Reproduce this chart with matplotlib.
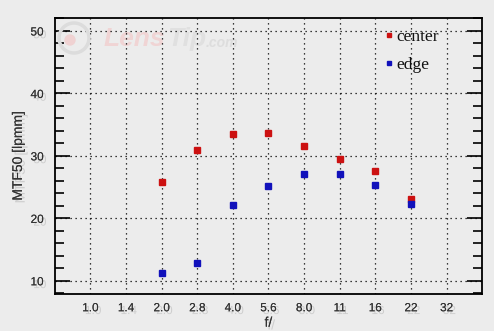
import numpy as np
import matplotlib.pyplot as plt
import matplotlib.patheffects as pe
from matplotlib.patches import Circle
from matplotlib.transforms import IdentityTransform
from matplotlib.ticker import MultipleLocator

# Data
fnum_labels = ["1.0", "1.4", "2.0", "2.8", "4.0", "5.6", "8.0", "11", "16", "22", "32"]
meas_labels = ["2.0", "2.8", "4.0", "5.6", "8.0", "11", "16", "22"]
center = [25.8, 31.0, 33.5, 33.6, 31.6, 29.5, 27.6, 23.1]
edge = [11.2, 12.8, 22.1, 25.2, 27.1, 27.1, 25.3, 22.3]

bg = "#ececec"
txt = "#333333"
shadow = [pe.withSimplePatchShadow(offset=(2, -2), shadow_rgbFace="#888888", alpha=0.3), pe.Normal()]

fig = plt.figure(figsize=(4.94, 3.31), dpi=100, facecolor=bg)
ax = fig.add_axes([0.111, 0.112, 0.865, 0.834], facecolor=bg)

xpos = [fnum_labels.index(l) for l in meas_labels]
ax.plot(xpos, center, "s", color="#cc1111", markersize=4.3, label="center", zorder=3)
ax.plot(xpos, edge, "s", color="#1111bb", markersize=4.3, label="edge", zorder=3)

ax.set_xlim(-1, 11)
ax.set_ylim(7.9, 52.1)
ax.set_xticks(range(len(fnum_labels)))
ax.set_xticklabels(fnum_labels)
ax.yaxis.set_major_locator(MultipleLocator(10))
ax.yaxis.set_minor_locator(MultipleLocator(2))

ax.grid(True, which="major", color="black", linestyle=(0, (1, 3)), linewidth=0.9)
ax.tick_params(axis="x", length=0, pad=6, labelsize=8.5, labelcolor=txt)
ax.tick_params(axis="y", which="major", direction="in", length=11, width=1.2,
               right=True, labelsize=8.5, labelcolor=txt, pad=8)
ax.tick_params(axis="y", which="minor", direction="in", length=6.5, width=1.2, right=True)
for s in ax.spines.values():
    s.set_linewidth(1.3)

for lab in ax.get_xticklabels() + ax.get_yticklabels():
    lab.set_fontfamily("Liberation Sans")
    lab.set_path_effects(shadow)

ax.set_ylabel("MTF50 [lpmm]", fontsize=10, color=txt, family="Liberation Sans",
              path_effects=shadow, labelpad=4)
ax.set_xlabel("f/", fontsize=10, color=txt, family="Liberation Sans",
              path_effects=shadow, labelpad=1)

# faint watermark
fig.patches.append(Circle((74, 331 - 38), 15, transform=IdentityTransform(),
                          fill=False, edgecolor="#dcdcdc", linewidth=2.5, zorder=0.5))
fig.patches.append(Circle((70, 331 - 40), 5, transform=IdentityTransform(),
                          color="#f0d2d2", zorder=0.5))
ax.text(0.113, 0.925, "Lens", transform=ax.transAxes, fontsize=19, style="italic",
        weight="bold", color="#f0d4d4", family="Liberation Sans", va="center", zorder=0.5)
ax.text(0.262, 0.925, "Tip", transform=ax.transAxes, fontsize=19, style="italic",
        weight="bold", color="#e0e0e0", family="Liberation Sans", va="center", zorder=0.5)
ax.text(0.352, 0.91, ".com", transform=ax.transAxes, fontsize=10, style="italic",
        weight="bold", color="#dddddd", family="Liberation Sans", va="center", zorder=0.5)

leg = ax.legend(loc="upper left", bbox_to_anchor=(0.772, 0.96), frameon=False,
                prop={"family": "Liberation Serif", "size": 12.5},
                handletextpad=0.15, handlelength=0.5, markerscale=0.75,
                labelspacing=0.7, borderaxespad=0, borderpad=0)
for t in leg.get_texts():
    t.set_color("#111111")

fig.savefig("out.png", dpi=100, facecolor=bg)
